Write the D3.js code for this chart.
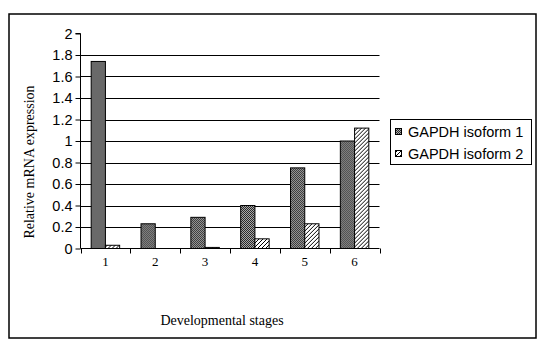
<!DOCTYPE html>
<html>
<head>
<meta charset="utf-8">
<script src="https://cdn.jsdelivr.net/npm/d3@7"></script>
<style>
  html, body { margin: 0; padding: 0; background: #fff; }
  svg { display: block; }
</style>
</head>
<body>
<div id="chart"></div>
<script>
// ---- Data ----
const categories = ["1", "2", "3", "4", "5", "6"];
const seriesNames = ["GAPDH isoform 1", "GAPDH isoform 2"];
const isoform1 = [1.74, 0.23, 0.29, 0.40, 0.75, 1.00];
const isoform2 = [0.03, 0.00, 0.01, 0.09, 0.23, 1.12];
const yTicks = [0, 0.2, 0.4, 0.6, 0.8, 1, 1.2, 1.4, 1.6, 1.8, 2];
const xTitle = "Developmental stages";
const yTitle = "Relative mRNA expression";

const W = 548, H = 356;
const svg = d3.select("#chart").append("svg").attr("width", W).attr("height", H);

// patterns
const defs = svg.append("defs");
const p1 = defs.append("pattern").attr("id", "pat1").attr("patternUnits", "userSpaceOnUse")
  .attr("width", 2).attr("height", 2);
p1.append("rect").attr("width", 2).attr("height", 2).attr("fill", "#a8a8a8");
p1.append("rect").attr("x", 0).attr("y", 0).attr("width", 1).attr("height", 1).attr("fill", "#2a2a2a");
p1.append("rect").attr("x", 1).attr("y", 1).attr("width", 1).attr("height", 1).attr("fill", "#2a2a2a");

const p2 = defs.append("pattern").attr("id", "pat2").attr("patternUnits", "userSpaceOnUse")
  .attr("width", 4).attr("height", 4);
p2.append("rect").attr("width", 4).attr("height", 4).attr("fill", "#fff");
p2.append("path").attr("d", "M-1,1 l2,-2 M0,4 l4,-4 M3,5 l2,-2")
  .attr("stroke", "#000").attr("stroke-width", 1);

const fills = ["url(#pat1)", "url(#pat2)"];

// outer border
svg.append("rect").attr("x", 9).attr("y", 14).attr("width", 527).attr("height", 324)
  .attr("fill", "none").attr("stroke", "#000").attr("stroke-width", 1.5);

// scales
const x0 = 80.5, x1 = 379.5, yBottom = 248.5, yTop = 33.5;
const x = d3.scaleBand().domain(categories).range([x0, x1]).paddingInner(0).paddingOuter(0);
const xs = d3.scaleBand().domain(seriesNames).range([0, x.bandwidth()]).paddingInner(0).paddingOuter(0.75);
const y = d3.scaleLinear().domain([0, 2]).range([yBottom, yTop]);

// gridlines (excluding 0 and 2)
svg.append("g").selectAll("line").data(yTicks.filter(t => t > 0 && t < 2)).join("line")
  .attr("x1", x0).attr("x2", x1)
  .attr("y1", d => Math.round(y(d)) + 0.5).attr("y2", d => Math.round(y(d)) + 0.5)
  .attr("stroke", "#000").attr("stroke-width", 1);

// bars
const data = categories.map((c, i) => ({ c, vals: [isoform1[i], isoform2[i]] }));
const groups = svg.append("g").selectAll("g").data(data).join("g")
  .attr("transform", d => `translate(${x(d.c)},0)`);
groups.selectAll("rect").data(d => d.vals.map((v, k) => ({ v, k })))
  .join("rect")
  .filter(d => d.v > 0)
  .attr("x", d => xs(seriesNames[d.k]))
  .attr("y", d => y(d.v))
  .attr("width", xs.bandwidth())
  .attr("height", d => yBottom - y(d.v))
  .attr("fill", d => fills[d.k])
  .attr("stroke", "#000").attr("stroke-width", 1);

// y axis
const yAxis = d3.axisLeft(y).tickValues(yTicks).tickSize(5).tickPadding(4)
  .tickFormat(d => String(+d.toFixed(1)));
const gy = svg.append("g").attr("transform", `translate(${x0},0)`).call(yAxis);
gy.select(".domain").attr("d", `M-5,${yTop}H0V${yBottom}`).attr("stroke", "#000");
gy.selectAll(".tick line").attr("stroke", "#000");
gy.selectAll("text").attr("font-family", "'Liberation Sans', Arial, sans-serif")
  .attr("font-size", 14.5).attr("fill", "#000").attr("x", -8);

// x axis
const gx = svg.append("g").attr("transform", `translate(0,${yBottom})`);
gx.append("line").attr("x1", x0).attr("x2", x1).attr("y1", 0).attr("y2", 0).attr("stroke", "#000");
const bounds = categories.map(c => x(c)).concat([x1]);
gx.selectAll("line.tk").data(bounds).join("line").attr("class", "tk")
  .attr("x1", d => Math.round(d) + 0.5).attr("x2", d => Math.round(d) + 0.5)
  .attr("y1", 0).attr("y2", 5).attr("stroke", "#000");
gx.selectAll("text").data(categories).join("text")
  .attr("x", d => x(d) + x.bandwidth() / 2).attr("y", 17)
  .attr("text-anchor", "middle")
  .attr("font-family", "'Liberation Serif', 'Times New Roman', serif")
  .attr("font-size", 13).attr("fill", "#000").text(d => d);

// titles
svg.append("text").attr("x", 222).attr("y", 325).attr("text-anchor", "middle")
  .attr("font-family", "'Liberation Serif', 'Times New Roman', serif")
  .attr("font-size", 14).attr("fill", "#000").text(xTitle);
svg.append("text").attr("transform", "translate(34,162) rotate(-90)").attr("text-anchor", "middle")
  .attr("font-family", "'Liberation Serif', 'Times New Roman', serif")
  .attr("font-size", 14).attr("fill", "#000").text(yTitle);

// legend
const lg = svg.append("g");
lg.append("rect").attr("x", 390.5).attr("y", 119.5).attr("width", 141).attr("height", 45)
  .attr("fill", "#fff").attr("stroke", "#000").attr("stroke-width", 1);
const rowsY = [131.5, 153.5];
seriesNames.forEach((name, k) => {
  lg.append("rect").attr("x", 395.5).attr("y", rowsY[k] - 3).attr("width", 6).attr("height", 6)
    .attr("fill", fills[k]).attr("stroke", "#000").attr("stroke-width", 1);
  lg.append("text").attr("x", 408).attr("y", rowsY[k] + 5.5)
    .attr("font-family", "'Liberation Sans', Arial, sans-serif")
    .attr("font-size", 14.5).attr("fill", "#000").text(name);
});
</script>
</body>
</html>
